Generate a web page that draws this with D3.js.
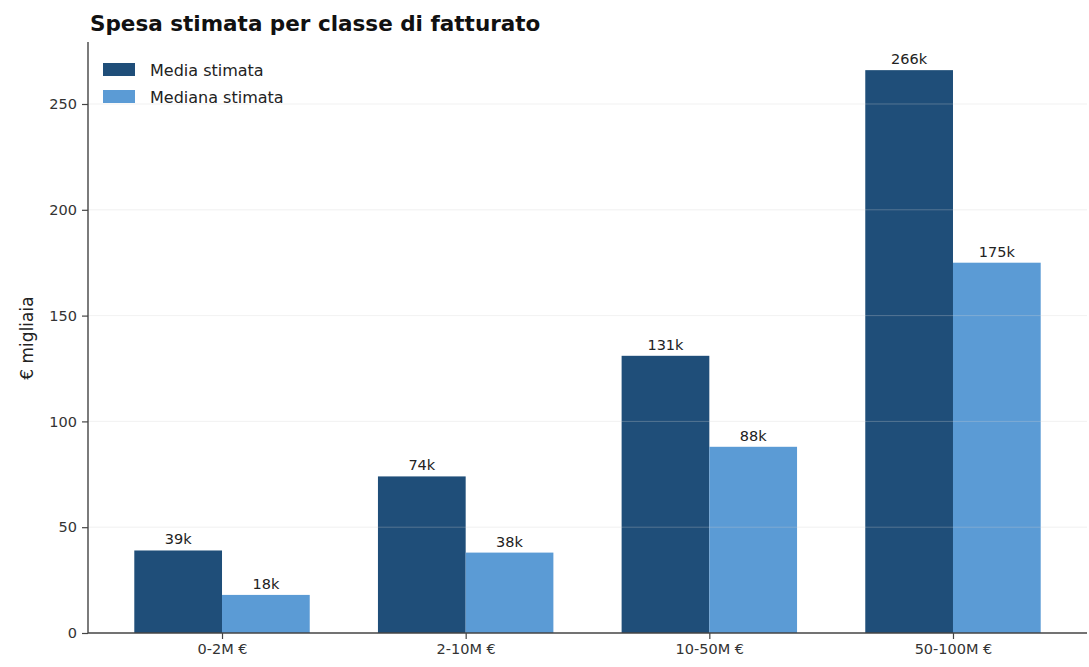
<!DOCTYPE html>
<html>
<head>
<meta charset="utf-8">
<script src="https://cdn.jsdelivr.net/npm/d3@7"></script>
<style>
  html, body { margin: 0; padding: 0; background: #fff; }
  svg { display: block; font-family: "DejaVu Sans", sans-serif; }
</style>
</head>
<body>
<svg id="chart" width="1089" height="667"></svg>
<script>
// Revenue classes and estimated spend (thousands of euro)
const categories = ["0-2M €", "2-10M €", "10-50M €", "50-100M €"];
const mediaStimata = [39, 74, 131, 266];
const medianaStimata = [18, 38, 88, 175];
const seriesNames = ["Media stimata", "Mediana stimata"];
const yTicks = [0, 50, 100, 150, 200, 250];

const colors = ["#1f4e79", "#5b9bd5"];
const svg = d3.select("#chart");

const plot = { left: 88, right: 1087, top: 42, bottom: 633 };
const barWidth = 0.36;

const x = d3.scaleLinear()
  .domain([-0.55, categories.length - 1 + 0.55])
  .range([plot.left, plot.right]);
const y = d3.scaleLinear()
  .domain([0, d3.max(mediaStimata) * 1.05])
  .range([plot.bottom, plot.top]);

const series = [mediaStimata, medianaStimata];

// Bars: two per class, side by side around the class centre
series.forEach((vals, si) => {
  const offset = si === 0 ? -barWidth / 2 : barWidth / 2;
  svg.append("g").selectAll("rect")
    .data(vals)
    .join("rect")
    .attr("x", (d, i) => x(i + offset - barWidth / 2))
    .attr("width", (d, i) => x(i + offset + barWidth / 2) - x(i + offset - barWidth / 2))
    .attr("y", d => y(d))
    .attr("height", d => y(0) - y(d))
    .attr("fill", colors[si]);

  svg.append("g").selectAll("text")
    .data(vals)
    .join("text")
    .attr("x", (d, i) => x(i + offset))
    .attr("y", d => y(d) - 6)
    .attr("text-anchor", "middle")
    .attr("font-size", 14.5)
    .attr("fill", "#222")
    .text(d => d + "k");
});

// Faint horizontal grid
svg.append("g").selectAll("line")
  .data(yTicks.filter(t => t > 0))
  .join("line")
  .attr("x1", plot.left)
  .attr("x2", plot.right)
  .attr("y1", d => y(d))
  .attr("y2", d => y(d))
  .attr("stroke", "#cfcfcf")
  .attr("stroke-opacity", 0.3)
  .attr("stroke-width", 1);

// Y axis
const yAxis = svg.append("g")
  .attr("transform", `translate(${plot.left},0)`)
  .call(d3.axisLeft(y).tickValues(yTicks).tickSize(6).tickPadding(5));
yAxis.select(".domain").attr("d", `M0,${plot.top}V${plot.bottom}`).attr("stroke", "#444").attr("stroke-width", 1.4);
yAxis.selectAll(".tick line").attr("stroke", "#444").attr("stroke-width", 1.2);
yAxis.selectAll(".tick text").attr("font-size", 14.5).attr("fill", "#333").attr("font-family", "DejaVu Sans, sans-serif");

// X axis
const xAxis = svg.append("g")
  .attr("transform", `translate(0,${plot.bottom})`)
  .call(d3.axisBottom(x).tickValues(d3.range(categories.length)).tickFormat(i => categories[i]).tickSize(6).tickPadding(5));
xAxis.select(".domain").attr("d", `M${plot.left},0H${plot.right}`).attr("stroke", "#444").attr("stroke-width", 1.4);
xAxis.selectAll(".tick line").attr("stroke", "#444").attr("stroke-width", 1.2);
xAxis.selectAll(".tick text").attr("font-size", 14.5).attr("fill", "#333").attr("font-family", "DejaVu Sans, sans-serif");

// Y axis title
svg.append("text")
  .attr("transform", `translate(33,338) rotate(-90)`)
  .attr("text-anchor", "middle")
  .attr("font-size", 17)
  .attr("fill", "#222")
  .text("€ migliaia");

// Chart title
svg.append("text")
  .attr("x", 90)
  .attr("y", 31)
  .attr("font-size", 21.5)
  .attr("font-weight", "bold")
  .attr("fill", "#111")
  .text("Spesa stimata per classe di fatturato");

// Legend
const legend = svg.append("g").attr("transform", "translate(103,63)");
seriesNames.forEach((name, i) => {
  const g = legend.append("g").attr("transform", `translate(0,${i * 27})`);
  g.append("rect").attr("width", 32).attr("height", 13).attr("fill", colors[i]);
  g.append("text").attr("x", 47).attr("y", 12.5).attr("font-size", 16).attr("fill", "#222").text(name);
});
</script>
</body>
</html>
